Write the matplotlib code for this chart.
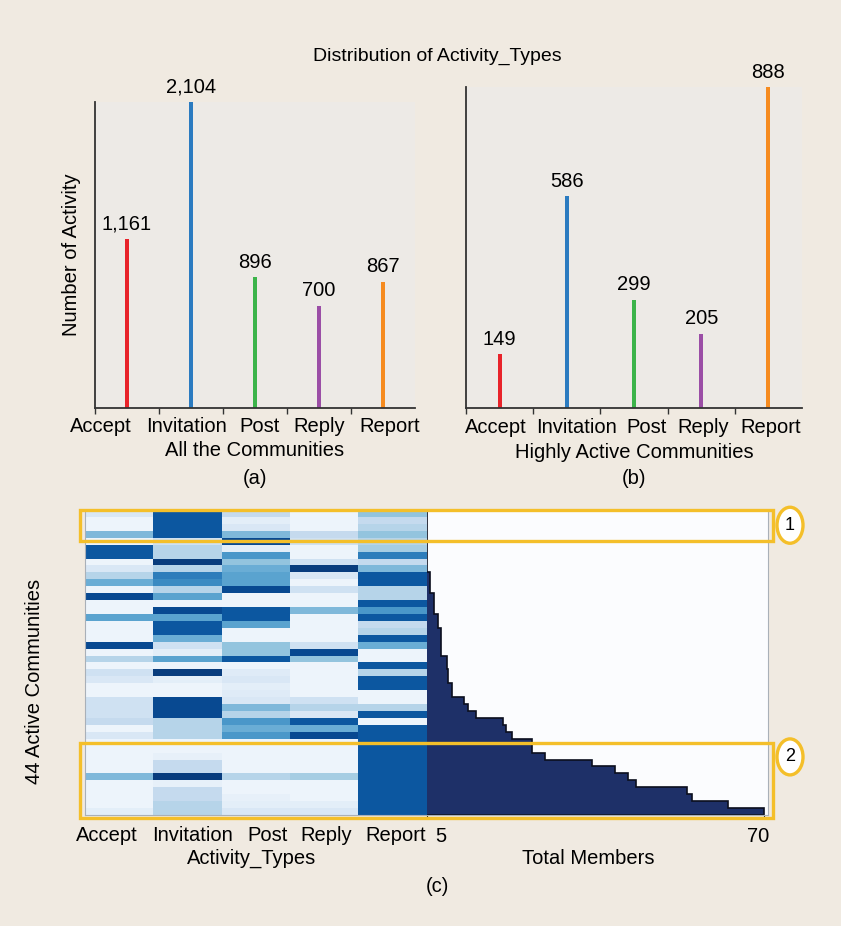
import matplotlib

matplotlib.use("Agg")
import matplotlib.pyplot as plt  # noqa: E402
import matplotlib.transforms as mtransforms
import numpy as np
from matplotlib.patches import Ellipse, Rectangle

plt.rcParams["font.family"] = ["Liberation Sans", "DejaVu Sans"]

activity_types = ["Accept", "Invitation", "Post", "Reply", "Report"]
all_counts = [1161, 2104, 896, 700, 867]
active_counts = [149, 586, 299, 205, 888]
bar_colors = ["#e8232a", "#2b7bc0", "#3cb44a", "#9b4ea6", "#f68b1f"]

# relative activity intensity per community (rows) and activity type (cols)
activity_share = [
    [0.15, 0.85, 0.25, 0.05, 0.40],
    [0.05, 0.85, 0.10, 0.05, 0.25],
    [0.05, 0.85, 0.15, 0.05, 0.30],
    [0.45, 0.85, 0.45, 0.25, 0.40],
    [0.05, 0.20, 0.90, 0.20, 0.30],
    [0.85, 0.30, 0.10, 0.05, 0.35],
    [0.85, 0.30, 0.60, 0.05, 0.70],
    [0.05, 0.95, 0.40, 0.20, 0.25],
    [0.15, 0.30, 0.50, 0.95, 0.45],
    [0.30, 0.70, 0.55, 0.15, 0.85],
    [0.50, 0.65, 0.55, 0.05, 0.85],
    [0.05, 0.30, 0.90, 0.20, 0.30],
    [0.90, 0.55, 0.05, 0.05, 0.30],
    [0.05, 0.05, 0.05, 0.05, 0.85],
    [0.05, 0.90, 0.85, 0.45, 0.60],
    [0.55, 0.55, 0.85, 0.05, 0.85],
    [0.05, 0.85, 0.55, 0.05, 0.25],
    [0.05, 0.85, 0.05, 0.05, 0.30],
    [0.05, 0.50, 0.05, 0.05, 0.85],
    [0.90, 0.20, 0.40, 0.20, 0.50],
    [0.05, 0.10, 0.40, 0.90, 0.05],
    [0.30, 0.55, 0.85, 0.40, 0.05],
    [0.05, 0.05, 0.05, 0.05, 0.85],
    [0.20, 0.95, 0.12, 0.05, 0.30],
    [0.15, 0.10, 0.15, 0.05, 0.85],
    [0.05, 0.05, 0.10, 0.05, 0.85],
    [0.05, 0.05, 0.12, 0.05, 0.05],
    [0.20, 0.90, 0.15, 0.20, 0.05],
    [0.20, 0.90, 0.45, 0.30, 0.30],
    [0.20, 0.90, 0.30, 0.15, 0.85],
    [0.25, 0.30, 0.60, 0.85, 0.05],
    [0.05, 0.30, 0.50, 0.50, 0.85],
    [0.15, 0.30, 0.60, 0.90, 0.85],
    [0.05, 0.05, 0.05, 0.05, 0.85],
    [0.05, 0.05, 0.05, 0.05, 0.85],
    [0.05, 0.08, 0.05, 0.05, 0.85],
    [0.05, 0.25, 0.05, 0.05, 0.85],
    [0.05, 0.25, 0.05, 0.05, 0.85],
    [0.45, 0.95, 0.30, 0.35, 0.85],
    [0.05, 0.08, 0.05, 0.05, 0.85],
    [0.05, 0.25, 0.05, 0.05, 0.85],
    [0.05, 0.25, 0.08, 0.05, 0.85],
    [0.05, 0.30, 0.10, 0.10, 0.85],
    [0.10, 0.30, 0.15, 0.15, 0.85],
]

total_members = [
    5, 5, 5, 5, 5, 5, 5, 5, 5,
    5.6, 5.6, 5.6, 6.4, 6.4, 6.4, 7.1, 7.1,
    7.7, 7.7, 7.7, 7.7, 8.8, 8.8, 9.1, 9.1, 9.8, 9.8,
    12.1, 12.9, 14.5, 19.7, 20.2, 21.4, 25.2, 25.2, 27.8,
    36.8, 41.3, 43.7, 45.3, 55.1, 56.1, 63.1, 70,
]

# highlighted community groups (row ranges) in panel (c)
highlight_rows = [(0, 4.4, "1"), (33.6, 44.4, "2")]

W, H = 841, 926
BG = "#f0eae1"
PANEL = "#edeae6"
FS = 14.5
YELLOW = "#f4bf2a"


def fx(px):
    return px / W


def fy(py):
    return 1 - py / H


fig = plt.figure(figsize=(W / 100, H / 100), dpi=100, facecolor=BG)


def nudge(labels, offsets_px):
    # the original labels are packed side by side, not exactly under the marks.
    # must run after tick_params, which rebuilds the label transforms
    for lab, dx in zip(labels, offsets_px):
        lab.set_transform(lab.get_transform()
                          + mtransforms.ScaledTranslation(dx / 100, 0, fig.dpi_scale_trans))


fig.text(fx(437), fy(56), "Distribution of Activity_Types", ha="center", va="center", fontsize=14)


def lollipop_panel(rect, counts, bar_w, label_dx):
    ax = fig.add_axes(rect, facecolor=PANEL)
    x = np.arange(len(counts))
    ax.bar(x, counts, width=bar_w, color=bar_colors)
    for xi, v in zip(x, counts):
        ax.annotate(f"{v:,}", (xi, v), xytext=(0, 4), textcoords="offset points",
                    ha="center", va="bottom", fontsize=FS)
    ax.set_xlim(-0.5, len(counts) - 0.5)
    ax.set_ylim(0, max(counts))
    ax.set_xticks(x - 0.5, minor=False)
    ax.set_xticklabels([])
    ax.set_xticks(x, minor=True)
    ax.set_xticklabels(activity_types, minor=True, fontsize=FS)
    ax.tick_params(axis="x", which="major", length=4, width=1, color="#333")
    ax.tick_params(axis="x", which="minor", length=0, pad=7)
    nudge(ax.get_xticklabels(minor=True), label_dx)
    ax.set_yticks([])
    for s in ("top", "right"):
        ax.spines[s].set_visible(False)
    for s in ("left", "bottom"):
        ax.spines[s].set_color("#333")
        ax.spines[s].set_linewidth(1.3)
    return ax


ax_a = lollipop_panel([fx(95), fy(407.7), fx(320), 306 / H], all_counts, 0.065,
                      [-26, -5, 5, 0, 7])
ax_a.set_ylabel("Number of Activity", fontsize=FS, labelpad=10)
fig.text(fx(255), fy(451), "All the Communities", ha="center", va="center", fontsize=FS)
fig.text(fx(255), fy(478), "(a)", ha="center", va="center", fontsize=FS)

ax_b = lollipop_panel([fx(466), fy(408), fx(336), 320.7 / H], active_counts, 0.06,
                      [-4, 10, 13, 2, 2])
fig.text(fx(634), fy(452), "Highly Active Communities", ha="center", va="center", fontsize=FS)
fig.text(fx(634), fy(478), "(b)", ha="center", va="center", fontsize=FS)

# panel (c): heatmap + total members step chart
n_rows = len(activity_share)
ax_h = fig.add_axes([fx(85), fy(815), fx(342), 305 / H])
ax_h.imshow(np.array(activity_share), cmap="Blues", vmin=0, vmax=1,
            aspect="auto", interpolation="nearest")
ax_h.set_xticks(np.arange(len(activity_types)))
ax_h.set_xticklabels(activity_types, fontsize=FS)
ax_h.tick_params(axis="x", length=0, pad=8)
nudge(ax_h.get_xticklabels(), [-12, 5, 12, 2, 3])
ax_h.set_yticks([])
for s in ax_h.spines.values():
    s.set_color("#a9b0b8")
    s.set_linewidth(0.8)
ax_h.spines["right"].set_visible(False)

ax_s = fig.add_axes([fx(427), fy(815), fx(341), 305 / H], facecolor="#fbfcfe")
edges = np.arange(n_rows + 1) - 0.5
ax_s.stairs(total_members, edges, orientation="horizontal", baseline=5,
            fill=True, color="#1e3068")
ax_s.stairs(total_members, edges, orientation="horizontal", baseline=5,
            color="#0b0f1e", linewidth=1.2)
ax_s.set_xlim(5, 70.8)
ax_s.set_ylim(n_rows - 0.5, -0.5)
ax_s.set_xticks([5, 70])
ax_s.set_xticklabels(["5", "70"], fontsize=FS)
ax_s.tick_params(axis="x", length=3, color="#222", pad=6)
ax_s.get_xticklabels()[0].set_ha("left")
nudge(ax_s.get_xticklabels(), [8, -6])
ax_s.set_yticks([])
for s in ax_s.spines.values():
    s.set_color("#a9b0b8")
    s.set_linewidth(0.8)
ax_s.spines["left"].set_visible(False)

fig.text(fx(35), fy(681), "44 Active Communities", rotation=90, ha="center", va="center", fontsize=FS)
fig.text(fx(252), fy(858), "Activity_Types", ha="center", va="center", fontsize=FS)
fig.text(fx(588), fy(858), "Total Members", ha="center", va="center", fontsize=FS)
fig.text(fx(437), fy(887), "(c)", ha="center", va="center", fontsize=FS)

# yellow highlight boxes spanning both halves of panel (c)
row_px = 305 / n_rows
for r0, r1, tag in highlight_rows:
    top = 510 + r0 * row_px
    bot = 510 + r1 * row_px
    fig.add_artist(Rectangle((fx(80), fy(bot)), fx(693), (bot - top) / H,
                             transform=fig.transFigure, fill=False,
                             edgecolor=YELLOW, linewidth=2.4))
    cy = (top + bot) / 2 if tag == "1" else top + 14
    fig.add_artist(Ellipse((fx(790), fy(cy)), fx(26), 36 / H,
                           transform=fig.transFigure, facecolor="white",
                           edgecolor=YELLOW, linewidth=2.4))
    fig.text(fx(790), fy(cy), tag, ha="center", va="center", fontsize=13)

fig.savefig("out.png", dpi=100, facecolor=BG)
